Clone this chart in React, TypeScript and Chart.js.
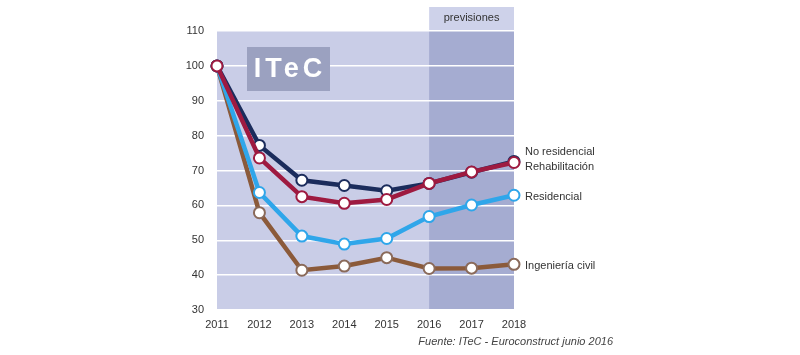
import React, { useEffect, useRef } from "react";
import { Chart, registerables } from "chart.js";

Chart.register(...registerables);

const years = ["2011", "2012", "2013", "2014", "2015", "2016", "2017", "2018"];
const seriesNames = ["Rehabilitación", "No residencial", "Residencial", "Ingeniería civil"];
const rehabilitacion = [100, 73.6, 62.5, 60.6, 61.7, 66.3, 69.6, 72.3];
const noResidencial = [100, 77.2, 67.2, 65.7, 64.2, 66.3, 69.5, 72.6];
const residencial = [100, 63.7, 51.2, 48.9, 50.5, 56.8, 60.1, 62.9];
const ingenieriaCivil = [100, 57.9, 41.4, 42.6, 45.0, 41.9, 42.0, 43.1];
const forecastStart = "2016";
const forecastLabel = "previsiones";
const logoText = "ITeC";
const sourceText = "Fuente: ITeC - Euroconstruct junio 2016";

const FONT = "'Liberation Sans', Arial, sans-serif";

const decorPlugin = {
  id: "decor",
  beforeDraw(chart: any) {
    const { ctx, chartArea: a, scales } = chart;
    const xs = scales.x;
    const fx = xs.getPixelForValue(years.indexOf(forecastStart));
    ctx.save();
    ctx.fillStyle = "#c9cde7";
    ctx.fillRect(a.left, a.top, a.right - a.left, a.bottom - a.top);
    ctx.fillStyle = "#a5acd1";
    ctx.fillRect(fx, a.top, a.right - fx, a.bottom - a.top);
    ctx.fillStyle = "#ced2ea";
    ctx.fillRect(fx, a.top - 24, a.right - fx, 24);
    ctx.fillStyle = "#333";
    ctx.font = `11px ${FONT}`;
    ctx.textAlign = "center";
    ctx.textBaseline = "middle";
    ctx.fillText(forecastLabel, (fx + a.right) / 2, a.top - 13);
    ctx.restore();
  },
  beforeDatasetsDraw(chart: any) {
    const { ctx, chartArea: a } = chart;
    ctx.save();
    const bx = a.left + 30;
    const by = a.top + 16;
    ctx.fillStyle = "#9ba1c0";
    ctx.fillRect(bx, by, 83, 44);
    ctx.fillStyle = "#ffffff";
    ctx.font = `bold 27px ${FONT}`;
    (ctx as any).letterSpacing = "4px";
    ctx.textAlign = "center";
    ctx.textBaseline = "middle";
    ctx.fillText(logoText, bx + 43, by + 23);
    ctx.restore();
  },
  afterDraw(chart: any) {
    const { ctx, chartArea: a, scales } = chart;
    const ys = scales.y;
    const last = years.length - 1;
    ctx.save();
    ctx.fillStyle = "#333";
    ctx.font = `11px ${FONT}`;
    ctx.textAlign = "left";
    ctx.textBaseline = "middle";
    const lx = a.right + 11;
    ctx.fillText(seriesNames[1], lx, ys.getPixelForValue(noResidencial[last]) - 9);
    ctx.fillText(seriesNames[0], lx, ys.getPixelForValue(rehabilitacion[last]) + 4);
    ctx.fillText(seriesNames[2], lx, ys.getPixelForValue(residencial[last]) + 2);
    ctx.fillText(seriesNames[3], lx, ys.getPixelForValue(ingenieriaCivil[last]) + 2);
    ctx.font = `italic 11px ${FONT}`;
    ctx.fillStyle = "#444";
    ctx.textAlign = "right";
    ctx.fillText(sourceText, 613, 342);
    ctx.restore();
  },
};

export default function App() {
  const ref = useRef<HTMLCanvasElement>(null);
  useEffect(() => {
    if (!ref.current) return;
    const mk = (label: string, data: number[], color: string, pb: string) => ({
      label,
      data,
      borderColor: color,
      backgroundColor: "#ffffff",
      borderWidth: 4.5,
      pointRadius: 5.5,
      pointBorderWidth: 2,
      pointBorderColor: pb,
      pointBackgroundColor: "#ffffff",
      tension: 0,
    });
    const chart = new Chart(ref.current, {
      type: "line",
      data: {
        labels: years,
        datasets: [
          mk(seriesNames[0], rehabilitacion, "#9e1a40", "#9e1a40"),
          mk(seriesNames[1], noResidencial, "#1b2c5c", "#1b2c5c"),
          mk(seriesNames[2], residencial, "#2fa6ea", "#2fa6ea"),
          mk(seriesNames[3], ingenieriaCivil, "#8b5a3a", "#8a6a5a"),
        ],
      },
      options: {
        responsive: false,
        animation: false,
        layout: { padding: { left: 177, right: 286, top: 31, bottom: 0 } },
        plugins: { legend: { display: false }, tooltip: { enabled: false } },
        scales: {
          x: {
            offset: false,
            grid: { display: false, drawTicks: false },
            border: { display: false },
            ticks: { color: "#333", font: { size: 11, family: FONT }, padding: 8, maxRotation: 0 },
            afterFit: (s: any) => { s.height = 45; },
          },
          y: {
            min: 30,
            max: 110,
            grid: { color: "#ffffff", lineWidth: 1.5, drawTicks: false },
            border: { display: false },
            ticks: { stepSize: 10, color: "#333", font: { size: 11, family: FONT }, padding: 13 },
            afterFit: (s: any) => { s.width = 40; },
          },
        },
      },
      plugins: [decorPlugin],
    });
    return () => chart.destroy();
  }, []);
  return (
    <div style={{ position: "absolute", left: 0, top: 0, width: 800, height: 355, background: "#fff" }}>
      <canvas ref={ref} width={800} height={355} />
    </div>
  );
}
